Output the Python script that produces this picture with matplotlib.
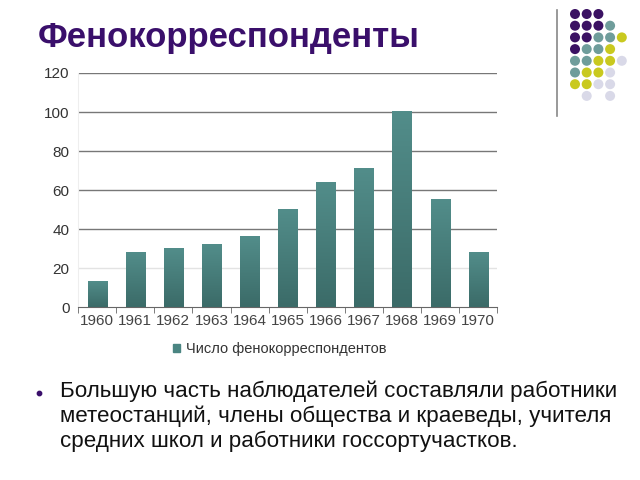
import matplotlib.pyplot as plt
import numpy as np
from matplotlib.colors import LinearSegmentedColormap

plt.rcParams['font.family'] = ['Liberation Sans', 'DejaVu Sans']

years = ['1960', '1961', '1962', '1963', '1964', '1965', '1966', '1967', '1968', '1969', '1970']
counts = [13, 28, 30, 32, 36, 50, 64, 71, 100, 55, 28]
legend_label = 'Число фенокорреспондентов'
title = 'Фенокорреспонденты'
bullet = ('Большую часть наблюдателей составляли работники\n'
          'метеостанций, члены общества и краеведы, учителя\n'
          'средних школ и работники госсортучастков.')

# decorative dot pattern, top right corner
dots = ['PPP..',
        'PPPT.',
        'PPTTY',
        'PTTY.',
        'TTYYL',
        'TYYL.',
        'YYLL.',
        '.L.L.']
dot_colors = {'P': '#3b1263', 'T': '#6f9d9b', 'Y': '#c9c91f', 'L': '#d9d9e8'}

fig = plt.figure(figsize=(6.4, 4.8), dpi=100)
fig.patch.set_facecolor('white')

fig.text(0.059, 0.922, title, fontsize=25, fontweight='bold', color='#3a0f6b',
         va='center', ha='left')

# decoration
deco = fig.add_axes([0, 0, 1, 1], zorder=-1)
deco.set_xlim(0, 640)
deco.set_ylim(480, 0)
deco.axis('off')
deco.plot([557, 557], [10, 116], color='#888888', lw=1.2)
for r, row in enumerate(dots):
    for c, ch in enumerate(row):
        if ch != '.':
            deco.scatter(575 + c * 11.7, 14 + r * 11.7, s=52, color=dot_colors[ch],
                         edgecolors='none')
deco.scatter([39], [393], s=10, color='#3a0f6b')
deco.text(60, 380, bullet, fontsize=16.1, color='#111111', va='top', ha='left',
          linespacing=1.22)

ax = fig.add_axes([0.122, 0.360, 0.655, 0.488])
x = np.arange(len(years))
bars = ax.bar(x, counts, width=0.5, color='#4a8582', zorder=2, label=legend_label)

cmap = LinearSegmentedColormap.from_list('teal', ['#3b6b68', '#528d8a'])
grad = np.linspace(0, 1, 100).reshape(-1, 1)
for b in bars:
    b.set_alpha(0)
    ax.imshow(grad, cmap=cmap, aspect='auto', origin='lower', zorder=3,
              extent=[b.get_x(), b.get_x() + b.get_width(), 0, b.get_height()])

ax.set_xlim(-0.5, len(years) - 0.5)
ax.set_ylim(0, 120)
ax.set_yticks(range(0, 121, 20))
ax.set_xticks(x)
ax.set_xticklabels(years)
ax.set_xticks(np.arange(-0.5, len(years), 1), minor=True)
for v in range(20, 121, 20):
    ax.axhline(v, color='#e3e3e3' if v == 20 else '#777777', lw=1, zorder=1)
ax.tick_params(axis='y', length=0, labelsize=11, labelcolor='#333333', pad=6)
ax.tick_params(axis='x', which='major', length=0, labelsize=11, labelcolor='#444444', pad=5)
ax.tick_params(axis='x', which='minor', length=4, color='#666666', direction='out')
for s in ['top', 'right']:
    ax.spines[s].set_visible(False)
ax.spines['left'].set_color('#eeeeee')
ax.spines['bottom'].set_color('#666666')

handle = plt.Rectangle((0, 0), 1, 1, color='#4a8582')
fig.legend([handle], [legend_label], loc='center', bbox_to_anchor=(0.437, 0.273),
           frameon=False, fontsize=10.5, handlelength=0.5, handleheight=0.5,
           handletextpad=0.4, labelcolor='#333333')

fig.savefig('out.png', dpi=100)
